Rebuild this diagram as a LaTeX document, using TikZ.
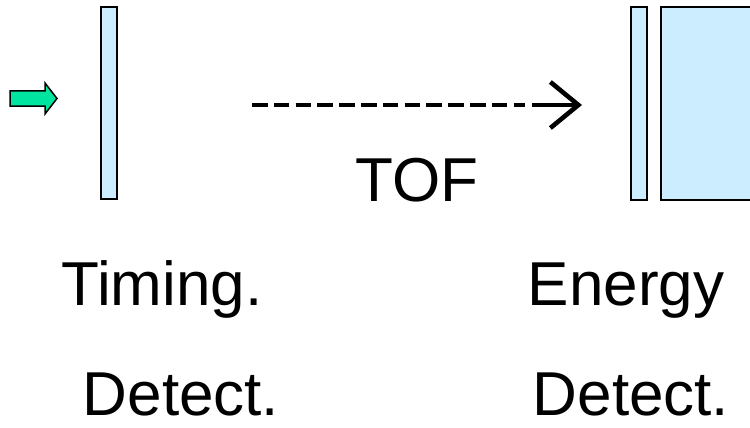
\documentclass[tikz,border=0pt]{standalone}
\usepackage{fontspec}
\setmainfont{Liberation Sans}
\usetikzlibrary{arrows.meta}
\definecolor{detblue}{HTML}{CCECFF}
\definecolor{beamgreen}{HTML}{00E6A0}
\begin{document}
\begin{tikzpicture}[x=1pt,y=-1pt,
  detector/.style={draw=black,line width=2pt,fill=detblue},
  lbl/.style={font=\fontsize{62}{62}\selectfont,inner sep=0pt,anchor=base}]
\useasboundingbox (0,0) rectangle (750,428);
% beam arrow
\draw[fill=beamgreen,line width=1.5pt,line join=miter]
  (10,91) -- (45,91) -- (45,83) -- (57,98.5) -- (45,114) -- (45,106) -- (10,106) -- cycle;
% detectors
\path[detector] (101,7) rectangle (117,199);
\path[detector] (631,7) rectangle (647,200);
\begin{scope}
\clip (0,0) rectangle (750,428);
\path[detector] (661,7) rectangle (760,200);
\end{scope}
% TOF arrow
\coordinate (s) at (252,105);
\coordinate (m) at (525,105);
\coordinate (m2) at (532,105);
\coordinate (e) at (582,105);
\draw[line width=4.6pt,dash pattern=on 15.5pt off 6.3pt] (s) -- (m);
\draw[line width=4.6pt,-{Straight Barb[length=28pt,width=46pt,line width=4.6pt]}] (m2) -- (e);
% labels
\node[lbl] (tof) at (417,201) {TOF};
\node[lbl] (t1) at (162,305) {Timing.};
\node[lbl] (t2) at (181,415) {Detect.};
\node[lbl] (e1) at (626,305) {Energy};
\node[lbl] (e2) at (631,415) {Detect.};
\end{tikzpicture}
\end{document}
